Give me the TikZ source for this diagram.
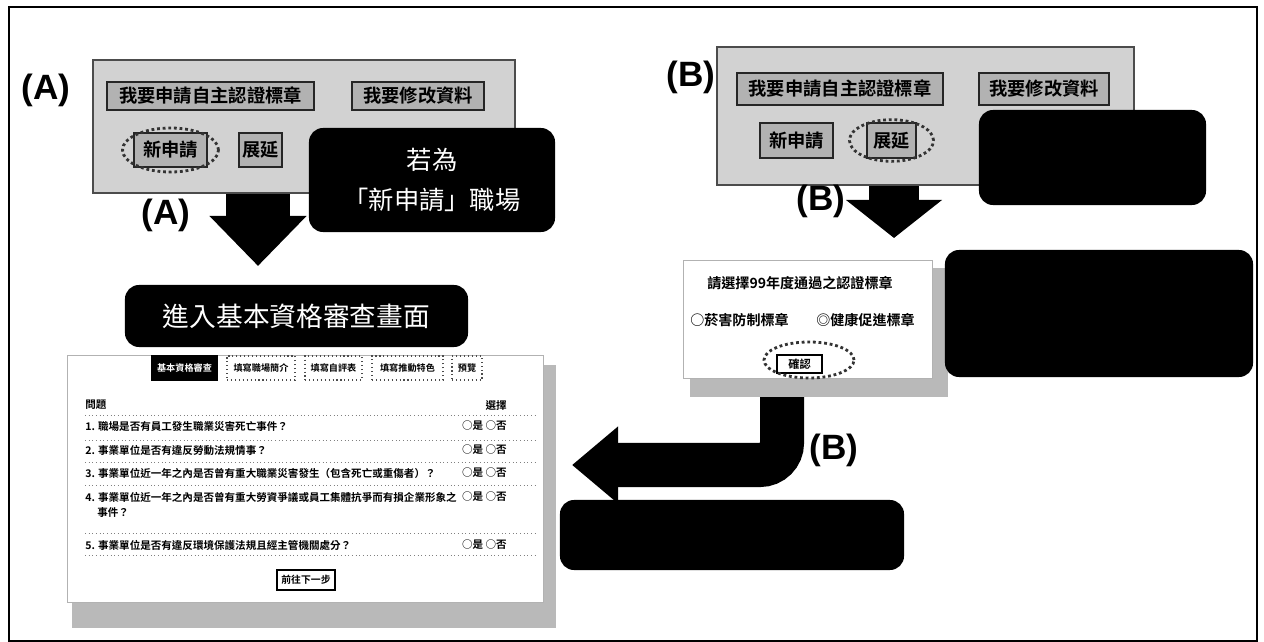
\documentclass[tikz,border=0pt]{standalone}
\usepackage{fontspec}
\setmainfont{Noto Sans CJK TC}[BoldFont={Noto Sans CJK TC Bold}]
\newfontfamily\labfont{Liberation Sans}
\usepackage{tikz}
\usetikzlibrary{positioning, arrows.meta, calc}

\begin{document}
\begin{tikzpicture}[x=0.025cm, y=-0.025cm,
    graypanel/.style={rectangle, draw=gray!60!black, line width=1.5pt, fill=gray!35},
    panelbtn/.style={rectangle, draw=black!85, line width=1pt, fill=gray!60, inner sep=0pt,
                     font=\fontsize{13}{15}\selectfont\bfseries},
    blackbox/.style={rectangle, fill=black, rounded corners=10pt, text=white, align=center,
                     font=\fontsize{18}{28}\selectfont},
    lab/.style={font=\labfont\bfseries\fontsize{25}{28}\selectfont, inner sep=0pt},
    screen/.style={rectangle, draw=gray!60, line width=0.6pt, fill=white, inner sep=0pt},
    shadow/.style={fill=gray!55},
    tabbtn/.style={rectangle, draw=black!70, dotted, line width=0.8pt, inner sep=0pt,
                   minimum height=0.6cm, font=\fontsize{6.5}{8}\selectfont\bfseries},
    qtext/.style={anchor=west, inner sep=0pt, font=\fontsize{7.5}{9}\selectfont\bfseries},
    atext/.style={anchor=east, inner sep=0pt, font=\fontsize{7.5}{9}\selectfont\bfseries},
    rowline/.style={gray, dotted, line width=0.6pt},
    ring/.style={black!80, dotted, line width=2pt},
    bigarrow/.style={black, line cap=butt}
]
    \useasboundingbox (0,0) rectangle (1264,642);

    % Frame
    \draw[line width=2pt] (9,7) rectangle (1257,641);

    % Block arrows
    \coordinate (tipA) at (258,266);
    \coordinate (tipB) at (894,238);
    \coordinate (tipL) at (572,465);
    \draw[bigarrow, line width=1.6cm, -{Triangle[width=2.35cm, length=1.25cm]}]
        (258,185) -- (tipA);
    \draw[bigarrow, line width=1.25cm, -{Triangle[width=2.35cm, length=0.95cm]}]
        (894,178) -- (tipB);
    \draw[bigarrow, line width=1.1cm, rounded corners=0.55cm, -{Triangle[width=1.85cm, length=1.15cm]}]
        (782,385) |- (tipL);

    % Panel A
    \node[graypanel, minimum width=10.55cm, minimum height=3.325cm] (panelA) at (304,126.5) {};
    \node[panelbtn, minimum width=5.175cm, minimum height=0.7cm] (applyA) at (210.5,96) {我要申請自主認證標章};
    \node[panelbtn, minimum width=3.3cm, minimum height=0.7cm] (editA) at (418,96) {我要修改資料};
    \node[panelbtn, minimum width=1.825cm, minimum height=0.85cm] (newA) at (170.5,150) {新申請};
    \node[panelbtn, minimum width=1.075cm, minimum height=0.85cm] (renewA) at (260.5,150) {展延};
    \draw[ring] (newA) ellipse [x radius=1.2cm, y radius=0.55cm];
    \node[blackbox, minimum width=6.15cm, minimum height=2.6cm] (noteA) at (432,180) {若為\\「新申請」職場};
    \node[lab] (labA) at (46,90) {(A)};
    \node[lab] (labAarrow) at (166,215) {(A)};

    % Title of screen A
    \node[blackbox, minimum width=8.575cm, minimum height=1.55cm, font=\fontsize{19}{22}\selectfont]
        (enterA) at (296.5,316) {進入基本資格審查畫面};

    % Screen A
    \fill[shadow] (72,365) rectangle (556,628);
    \node[screen, minimum width=11.9cm, minimum height=6.175cm] (screenA) at (305,478.5) {};
    \node[tabbtn, solid, draw=black, fill=black, text=white, minimum width=1.625cm] (tabBasic) at (184.5,368) {基本資格審查};
    \node[tabbtn, minimum width=1.7cm] (tabIntro) at (261,368) {填寫職場簡介};
    \node[tabbtn, minimum width=1.425cm] (tabSelf) at (333.5,368) {填寫自評表};
    \node[tabbtn, minimum width=1.775cm] (tabFeat) at (407.5,368) {填寫推動特色};
    \node[tabbtn, minimum width=0.75cm] (tabView) at (467,368) {預覽};

    \node[qtext] (hdrQ) at (85,405) {問題};
    \node[atext] (hdrA) at (507,405) {選擇};
    \foreach \y in {415,440,462,485,533,555}
        \draw[rowline] (85,\y) -- (535,\y);

    \node[qtext] (q1) at (85,426) {1. 職場是否有員工發生職業災害死亡事件？};
    \node[qtext] (q2) at (85,450) {2. 事業單位是否有違反勞動法規情事？};
    \node[qtext] (q3) at (85,473) {3. 事業單位近一年之內是否曾有重大職業災害發生（包含死亡或重傷者）？};
    \node[qtext] (q4) at (85,497) {4. 事業單位近一年之內是否曾有重大勞資爭議或員工集體抗爭而有損企業形象之};
    \node[qtext] (q4b) at (97,513) {事件？};
    \node[qtext] (q5) at (85,545) {5. 事業單位是否有違反環境保護法規且經主管機關處分？};
    \foreach \y/\n in {426/1,450/2,473/3,497/4,545/5}
        \node[atext] (ans\n) at (507,\y) {○是 ○否};

    \node[rectangle, draw=black, line width=1pt, inner sep=0pt, minimum width=1.45cm, minimum height=0.5cm,
          font=\fontsize{7}{8}\selectfont\bfseries] (nextA) at (306,580) {前往下一步};

    % Panel B
    \node[graypanel, minimum width=10.425cm, minimum height=3.45cm] (panelB) at (925.5,116) {};
    \node[panelbtn, minimum width=5.15cm, minimum height=0.8cm] (applyB) at (840,89) {我要申請自主認證標章};
    \node[panelbtn, minimum width=3.25cm, minimum height=0.8cm] (editB) at (1044,89) {我要修改資料};
    \node[panelbtn, minimum width=1.825cm, minimum height=0.875cm] (newB) at (796.5,140.5) {新申請};
    \node[panelbtn, minimum width=1.225cm, minimum height=0.875cm] (renewB) at (891.5,140.5) {展延};
    \draw[ring] (renewB) ellipse [x radius=1.05cm, y radius=0.52cm];
    \node[blackbox, minimum width=5.675cm, minimum height=2.375cm] (noteB) at (1092.5,157.5) {};
    \node[lab] (labB) at (691,77) {(B)};
    \node[lab] (labBarrow) at (821,201) {(B)};

    % Screen B
    \fill[shadow] (690,268) rectangle (948,397);
    \node[screen, minimum width=6.225cm, minimum height=2.95cm] (screenB) at (807.5,319) {};
    \node[font=\fontsize{10}{12}\selectfont\bfseries] (pickB) at (800,283) {請選擇99年度通過之認證標章};
    \node[qtext, font=\fontsize{10}{12}\selectfont\bfseries] (optSmoke) at (690,320) {○菸害防制標章};
    \node[qtext, font=\fontsize{10}{12}\selectfont\bfseries] (optHealth) at (816,320) {◎健康促進標章};
    \node[rectangle, draw=black, line width=1pt, inner sep=0pt, minimum width=1.125cm, minimum height=0.45cm,
          font=\fontsize{8}{9}\selectfont\bfseries] (okB) at (799.5,364) {確認};
    \draw[ring] (809,360) ellipse [x radius=1.125cm, y radius=0.45cm];
    \node[blackbox, minimum width=7.7cm, minimum height=3.175cm] (noteB2) at (1099,313.5) {};
    \node[lab] (labBturn) at (834,450) {(B)};

    % Bottom note
    \node[blackbox, minimum width=8.6cm, minimum height=1.75cm] (noteB3) at (732,535) {};
\end{tikzpicture}
\end{document}
